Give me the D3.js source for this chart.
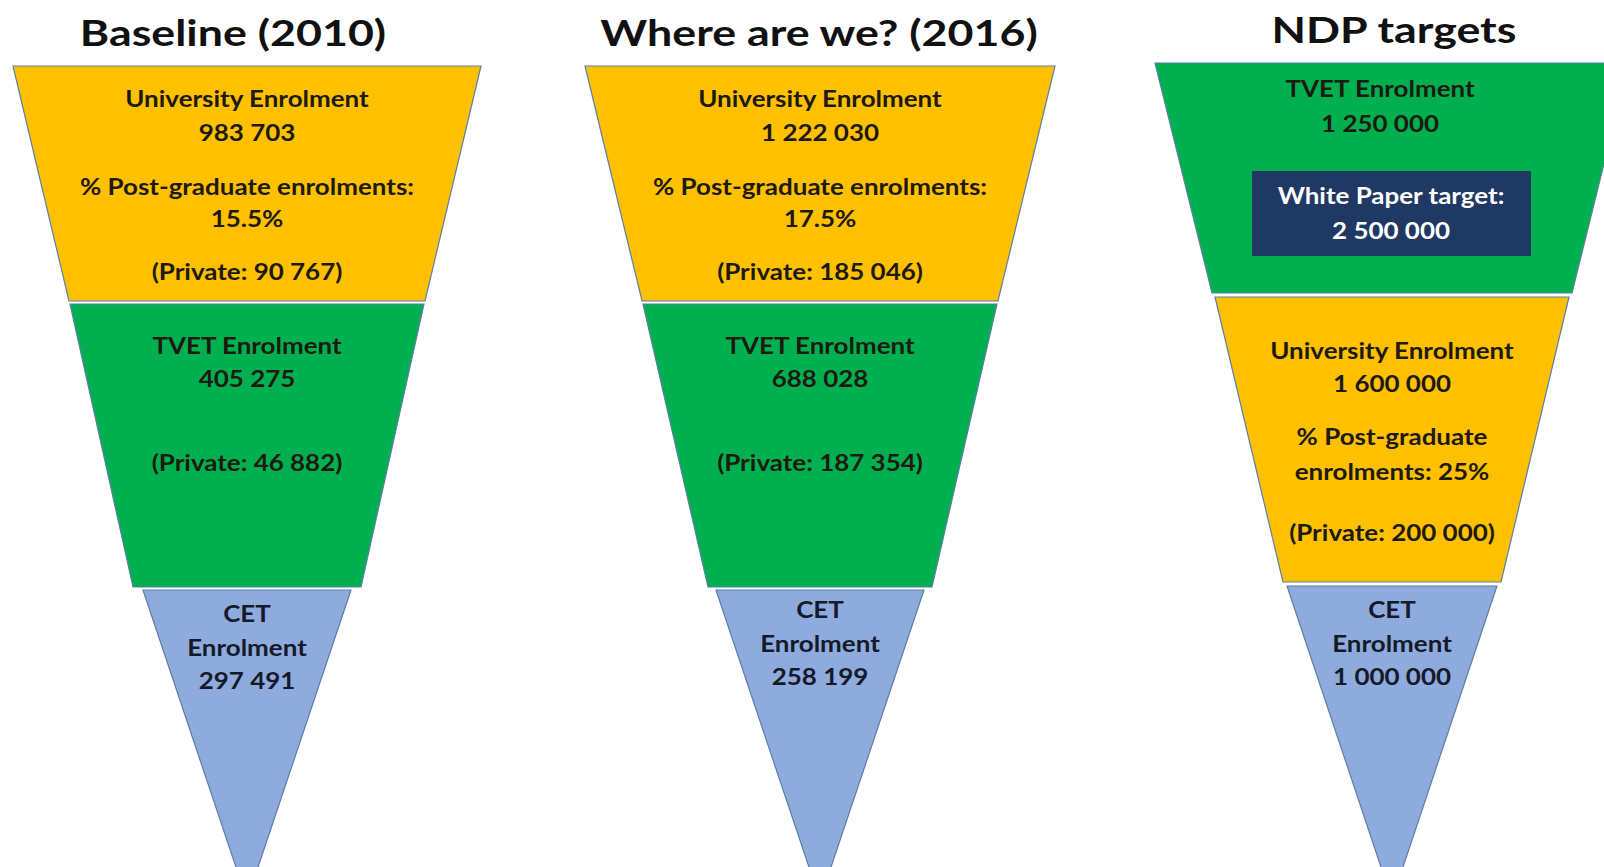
<!DOCTYPE html>
<html>
<head>
<meta charset="utf-8">
<script src="https://cdn.jsdelivr.net/npm/d3@7"></script>
<style>
  html, body { margin: 0; padding: 0; background: #fff; }
  svg { display: block; }
  text { font-family: Lato, "Open Sans", sans-serif; font-weight: 700; }
</style>
</head>
<body>
<div id="chart"></div>
<script>

// ---- data ----
var panelTitles = ["Baseline (2010)", "Where are we? (2016)", "NDP targets"];
var universityEnrolment = [983703, 1222030, 1600000];
var postgradShare = ["15.5%", "17.5%", "25%"];
var universityPrivate = [90767, 185046, 200000];
var tvetEnrolment = [405275, 688028, 1250000];
var tvetPrivate = [46882, 187354, null];
var cetEnrolment = [297491, 258199, 1000000];
var whitePaperTarget = 2500000;
// order of the tiers inside each funnel, top to bottom
var tierOrder = [["uni", "tvet", "cet"], ["uni", "tvet", "cet"], ["tvet", "uni", "cet"]];

var colors = { uni: "#FFC000", tvet: "#00B050", cet: "#8FAADC" };

var W = 1604, H = 867;

var fmt = d3.formatLocale({ decimal: ".", thousands: " ", grouping: [3], currency: ["", ""] }).format(",");

// layout of the three funnels
var panelX = d3.scaleOrdinal().domain([0, 1, 2]).range([247, 820, 1392]);
var titleX = [233, 819, 1394];
var titleY = [46, 46, 43];
var stretchTitle = 1.21, stretchLabel = 1.18;   // the source slide is a bit wide

// tier boxes [top, bottom, halfTop, halfBottom]
var tierGeom = [
  [[66, 301, 234, 178], [304, 587, 177, 114], [590, 900, 104, 0]],
  [[66, 301, 235, 178], [304, 587, 177, 112], [590, 900, 104, 0]],
  [[63, 293, 237, 180], [297, 582, 177, 109], [586, 900, 105, 0]]
];

var svg = d3.select("#chart").append("svg")
  .attr("width", W).attr("height", H);

// [text, baseline y, x shift]
function tierLines(p, key) {
  if (key === "uni") {
    if (p < 2) return [
      ["University Enrolment", 107], [fmt(universityEnrolment[p]), 141],
      ["% Post-graduate enrolments:", 195], [postgradShare[p], 227],
      ["(Private: " + fmt(universityPrivate[p]) + ")", 280]
    ];
    return [
      ["University Enrolment", 359], [fmt(universityEnrolment[p]), 392],
      ["% Post-graduate", 445], ["enrolments: " + postgradShare[p], 480],
      ["(Private: " + fmt(universityPrivate[p]) + ")", 541]
    ];
  }
  if (key === "tvet") {
    if (p < 2) return [
      ["TVET Enrolment", 354], [fmt(tvetEnrolment[p]), 387],
      ["(Private: " + fmt(tvetPrivate[p]) + ")", 471]
    ];
    return [["TVET Enrolment", 97, -12], [fmt(tvetEnrolment[p]), 132, -12]];
  }
  var base = p === 0 ? 622 : 618;
  return [["CET", base], ["Enrolment", base + 34], [fmt(cetEnrolment[p]), base + 67]];
}

function label(sel, x, y, sx) {
  return sel.append("text")
    .attr("transform", "translate(" + x + "," + y + ") scale(" + sx + ",1)")
    .attr("text-anchor", "middle");
}

panelTitles.forEach(function(title, p) {
  var g = svg.append("g").attr("class", "panel");
  var cx = panelX(p);

  label(g, titleX[p], titleY[p], stretchTitle)
    .attr("font-size", 37)
    .attr("fill", "#111")
    .text(title);

  tierOrder[p].forEach(function(key, i) {
    var t = tierGeom[p][i];
    var half = d3.scaleLinear().domain([t[0], t[1]]).range([t[2], t[3]]);
    var pts = [[cx - half(t[0]), t[0]], [cx + half(t[0]), t[0]],
               [cx + half(t[1]), t[1]], [cx - half(t[1]), t[1]]];
    g.append("path")
      .attr("d", d3.line()(pts) + "Z")
      .attr("fill", colors[key])
      .attr("stroke", "#5A7FA6")
      .attr("stroke-width", 1.2);
  });
});

// white paper box sits on the NDP TVET tier
svg.append("rect")
  .attr("x", 1252).attr("y", 171).attr("width", 279).attr("height", 85)
  .attr("fill", "#203864");
label(svg, 1391, 204, stretchLabel)
  .attr("font-size", 22).attr("fill", "#fff").text("White Paper target:");
label(svg, 1391, 239, stretchLabel)
  .attr("font-size", 22).attr("fill", "#fff").text(fmt(whitePaperTarget));

// labels
panelTitles.forEach(function(title, p) {
  var cx = panelX(p);
  tierOrder[p].forEach(function(key) {
    tierLines(p, key).forEach(function(d) {
      label(svg, cx + (d[2] || 0), d[1], stretchLabel)
        .attr("font-size", 22)
        .attr("fill", key === "cet" ? "#141a2a" : "#1d1a12")
        .text(d[0]);
    });
  });
});

</script>
</body>
</html>
